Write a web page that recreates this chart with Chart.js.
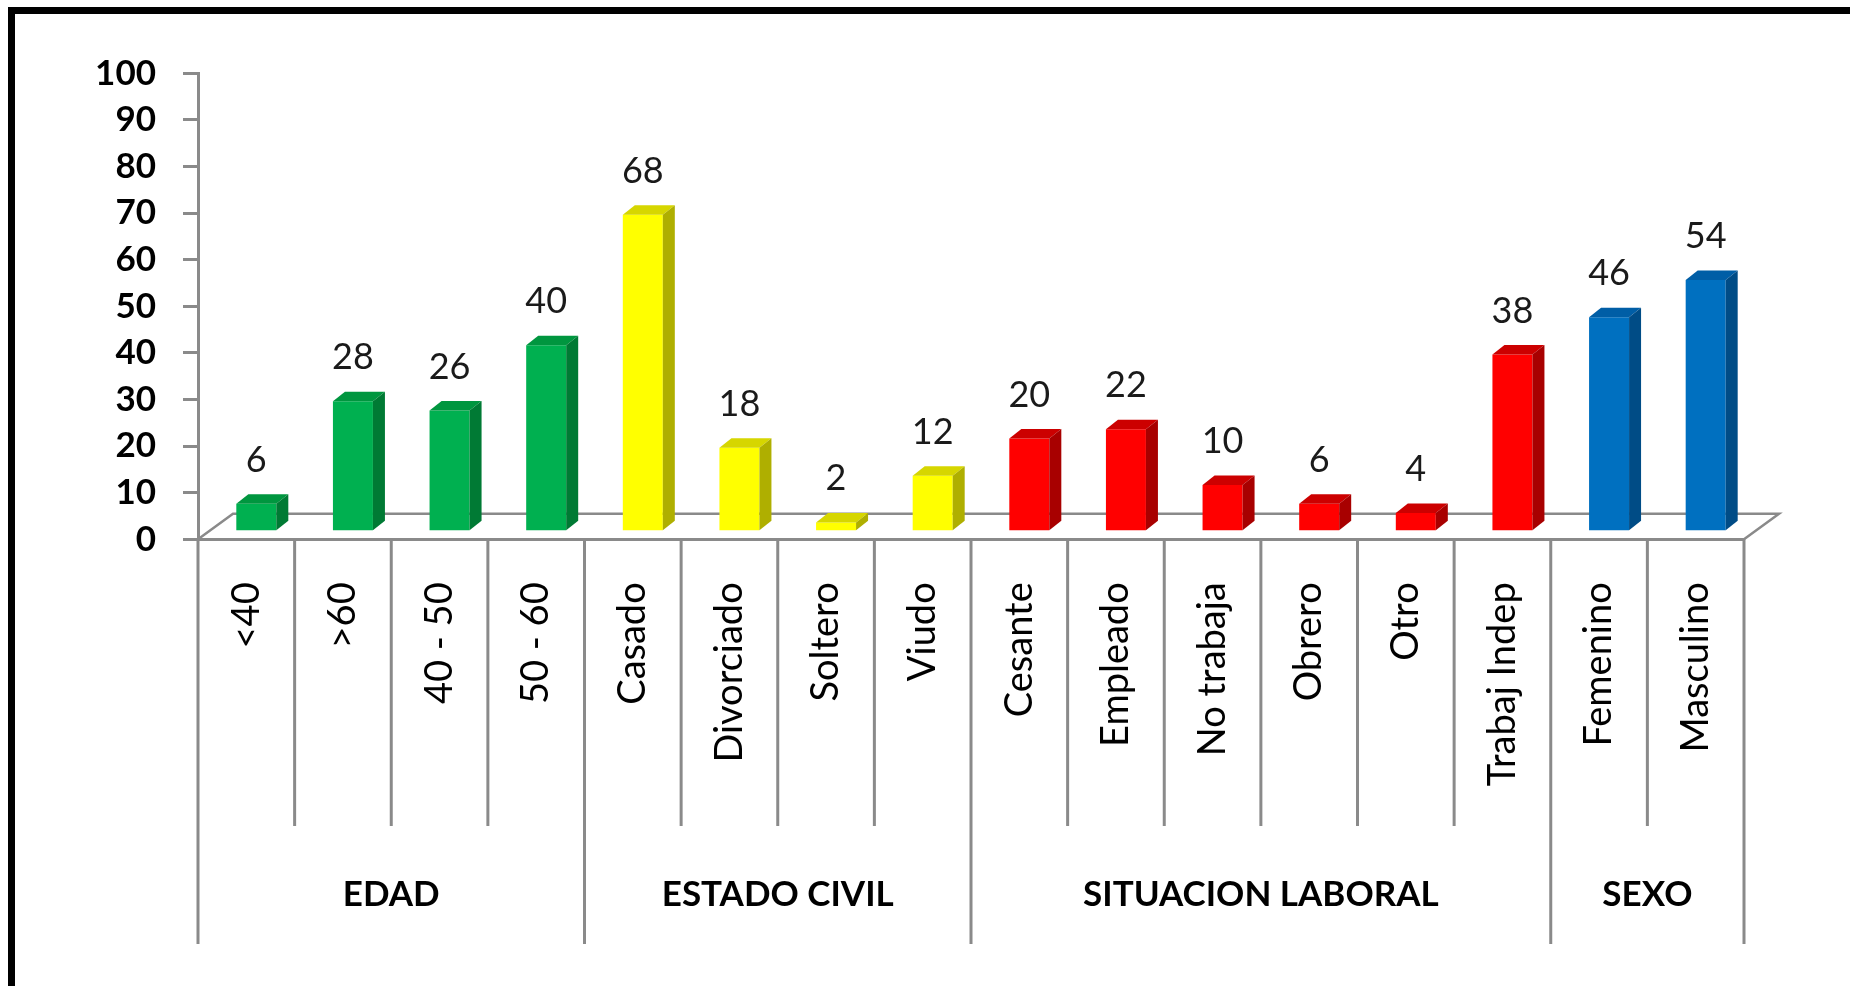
<!DOCTYPE html>
<html><head><meta charset="utf-8">
<script src="https://cdn.jsdelivr.net/npm/chart.js@4/dist/chart.umd.min.js"></script>
<style>
html,body{margin:0;padding:0;background:#fff;overflow:hidden}
#wrap{position:relative;width:1850px;height:986px;overflow:hidden}
#frame{position:absolute;left:8px;top:7px;width:1900px;height:1100px;border:7px solid #000;box-sizing:border-box;pointer-events:none}
canvas{position:absolute;left:0;top:0}
</style></head><body>
<div id="wrap"><canvas id="c" width="1850" height="986"></canvas><div id="frame"></div></div>
<script>
// ---- data ----
const groups = ['EDAD', 'ESTADO CIVIL', 'SITUACION LABORAL', 'SEXO'];
const groupSizes = [4, 4, 6, 2];
const categories = ['<40', '>60', '40 - 50', '50 - 60',
  'Casado', 'Divorciado', 'Soltero', 'Viudo',
  'Cesante', 'Empleado', 'No trabaja', 'Obrero', 'Otro', 'Trabaj Indep',
  'Femenino', 'Masculino'];
const values = [6, 28, 26, 40, 68, 18, 2, 12, 20, 22, 10, 6, 4, 38, 46, 54];
const yMin = 0, yMax = 100, yStep = 10;

// ---- styles ----
const groupFront = ['#00B050', '#FFFF00', '#FF0000', '#0070C0'];
const groupTop   = ['#00963F', '#D6D600', '#CC0000', '#005EA6'];
const groupSide  = ['#007A34', '#AFAF00', '#A80000', '#004C86'];
const groupOf = [];
groupSizes.forEach((n, g) => { for (let k = 0; k < n; k++) groupOf.push(g); });

const AXIS = '#8A8A8A';
const SHIFT_X = 10, SHIFT_Y = -7.6;     // bars sit mid-depth on the 3D floor
const DEPTH_X = 12, DEPTH_Y = 9.5;      // bar depth
const FLOOR_X = 35, FLOOR_Y = 25.5;     // floor depth

const threeD = {
  id: 'threeD',
  beforeDatasetsDraw(chart) {
    const ctx = chart.ctx, a = chart.chartArea;
    ctx.save();
    ctx.strokeStyle = AXIS; ctx.lineWidth = 2.5; ctx.lineJoin = 'miter';
    ctx.beginPath();
    ctx.moveTo(a.left, a.bottom);
    ctx.lineTo(a.left + FLOOR_X, a.bottom - FLOOR_Y);
    ctx.lineTo(a.right + FLOOR_X, a.bottom - FLOOR_Y);
    ctx.lineTo(a.right, a.bottom);
    ctx.stroke();
    ctx.restore();
  },
  beforeDatasetDraw(chart) {
    chart.ctx.save();
    chart.ctx.translate(SHIFT_X, SHIFT_Y);
  },
  afterDatasetDraw(chart, args) {
    const ctx = chart.ctx;
    args.meta.data.forEach((bar, i) => {
      const g = groupOf[i];
      const l = bar.x - bar.width / 2, r = bar.x + bar.width / 2;
      const t = bar.y, b = bar.base;
      // top face
      ctx.fillStyle = groupTop[g];
      ctx.beginPath();
      ctx.moveTo(l, t); ctx.lineTo(l + DEPTH_X, t - DEPTH_Y);
      ctx.lineTo(r + DEPTH_X, t - DEPTH_Y); ctx.lineTo(r, t); ctx.closePath();
      ctx.fill();
      // side face
      ctx.fillStyle = groupSide[g];
      ctx.beginPath();
      ctx.moveTo(r, t); ctx.lineTo(r + DEPTH_X, t - DEPTH_Y);
      ctx.lineTo(r + DEPTH_X, b - DEPTH_Y); ctx.lineTo(r, b); ctx.closePath();
      ctx.fill();
      // value label
      ctx.fillStyle = '#1A1A1A';
      ctx.font = '36px Lato';
      ctx.textAlign = 'center'; ctx.textBaseline = 'alphabetic';
      ctx.fillText(String(values[i]), bar.x, t - 32);
    });
    ctx.restore();
  },
  afterDraw(chart) {
    const ctx = chart.ctx, a = chart.chartArea, xs = chart.scales.x;
    const n = categories.length, w = xs.width / n;
    const groupStarts = [0];
    groupSizes.forEach(s => groupStarts.push(groupStarts[groupStarts.length - 1] + s));
    ctx.save();
    ctx.strokeStyle = AXIS; ctx.lineWidth = 3;
    for (let i = 0; i <= n; i++) {
      const x = xs.left + i * w;
      const isGroup = groupStarts.includes(i);
      ctx.beginPath();
      ctx.moveTo(x, a.bottom);
      ctx.lineTo(x, isGroup ? 944 : 826);
      ctx.stroke();
    }
    ctx.fillStyle = '#000';
    ctx.font = 'bold 35px Lato';
    ctx.textAlign = 'center'; ctx.textBaseline = 'middle';
    groups.forEach((name, g) => {
      const cx = xs.left + (groupStarts[g] + groupSizes[g] / 2) * w;
      ctx.fillText(name, cx, 895);
    });
    ctx.restore();
  }
};

new Chart(document.getElementById('c'), {
  type: 'bar',
  data: {
    labels: categories,
    datasets: [{
      data: values,
      backgroundColor: values.map((v, i) => groupFront[groupOf[i]]),
      borderWidth: 0,
      barPercentage: 0.414,
      categoryPercentage: 1
    }]
  },
  options: {
    responsive: false,
    animation: false,
    devicePixelRatio: 1,
    layout: { padding: { left: 0, right: 106, top: 73.3, bottom: 0 } },
    plugins: { legend: { display: false }, tooltip: { enabled: false } },
    scales: {
      x: {
        afterFit: s => { s.height = 986 - 539.3; },
        grid: { display: false, drawTicks: false },
        border: { display: true, color: AXIS, width: 3 },
        ticks: {
          autoSkip: false, minRotation: 90, maxRotation: 90, padding: 43,
          color: '#000', font: { family: 'Lato', size: 38 }
        }
      },
      y: {
        min: yMin, max: yMax,
        afterFit: s => { s.width = 198; },
        grid: { drawOnChartArea: false, color: AXIS, lineWidth: 3, tickLength: 15 },
        border: { display: true, color: AXIS, width: 3 },
        ticks: {
          stepSize: yStep, padding: 27, color: '#000',
          font: { family: 'Lato', size: 35, weight: 'bold' }
        }
      }
    }
  },
  plugins: [threeD]
});
</script>
</body></html>
